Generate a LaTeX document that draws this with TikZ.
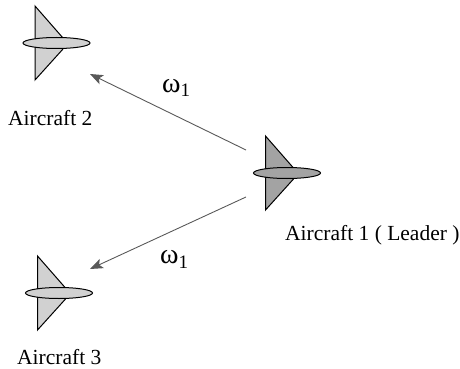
\documentclass[tikz,border=0pt]{standalone}
\usepackage{fontspec}
\setmainfont{Liberation Serif}
\usetikzlibrary{arrows.meta,shapes.geometric}
\tikzset{
  x=1pt,y=-1pt,
  wing/.style={draw=black,line width=1pt,line join=miter},
  body/.style={ellipse,draw=black,line width=1pt,minimum width=67pt,minimum height=11pt,inner sep=0pt},
  lbl/.style={font=\fontsize{21.5}{24}\selectfont,inner sep=0pt,anchor=base west},
  link/.style={draw=black!65,line width=0.9pt,-{Stealth[length=13pt,width=10pt,inset=3pt]}},
  omegalbl/.style={font=\fontsize{28}{30}\selectfont,inner sep=0pt,anchor=base west}
}
\newcommand{\plane}[4]{% name, cx, cy, fill
  \fill[#4] (#2-21.5,#3-37) -- (#2+6.5,#3-5) -- (#2+6.5,#3+6) -- (#2-21.5,#3+37) -- cycle;
  \draw[wing] (#2+6.5,#3-5) -- (#2-21.5,#3-37) -- (#2-21.5,#3+37) -- (#2+6.5,#3+6);
  \node[body,fill=#4] (#1) at (#2,#3) {};
}
\begin{document}
\begin{tikzpicture}
\useasboundingbox (0,0) rectangle (460,369);
\plane{a2}{56.5}{43}{black!18}
\plane{a1}{287}{173}{black!36}
\plane{a3}{59}{293}{black!18}
\node[lbl] (t2) at (8,125) {Aircraft 2};
\node[lbl] (t1) at (285,240) {Aircraft 1 ( Leader )};
\node[lbl] (t3) at (17,364) {Aircraft 3};
\coordinate (s2) at (246,150);
\coordinate (e2) at (90,74);
\coordinate (s3) at (246,197);
\coordinate (e3) at (90,269);
\draw[link] (s2) -- (e2);
\draw[link] (s3) -- (e3);
\node[omegalbl] (w2) at (162,92) {ω\raisebox{-5pt}{\fontsize{19}{20}\selectfont 1}};
\node[omegalbl] (w3) at (160,263) {ω\raisebox{-5pt}{\fontsize{19}{20}\selectfont 1}};
\end{tikzpicture}
\end{document}
